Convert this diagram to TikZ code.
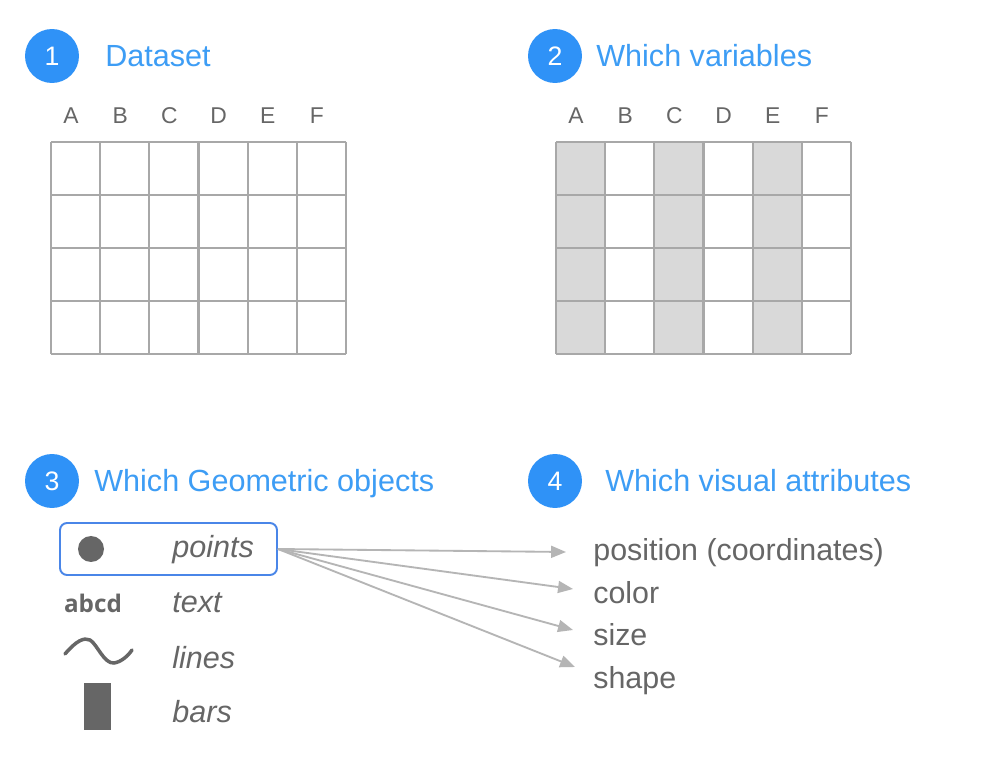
\documentclass[tikz,border=0pt]{standalone}
\usepackage{fontspec}
\setmainfont{Liberation Sans}
\newfontfamily\iconfont{Open Sans}
\usetikzlibrary{arrows.meta}
\definecolor{numblue}{HTML}{2F92F7}
\definecolor{titleblue}{HTML}{3D9DF5}
\definecolor{txtgray}{HTML}{666666}
\definecolor{gridgray}{HTML}{A8A8A8}
\definecolor{cellfill}{HTML}{D9D9D9}
\definecolor{selblue}{HTML}{4A86E8}
\definecolor{arrgray}{HTML}{B5B5B5}
\tikzset{
  num/.style={circle, fill=numblue, text=white, minimum size=1.08cm, inner sep=0pt, font=\fontsize{15.2}{18}\selectfont},
  title/.style={anchor=base west, inner sep=0pt, text=titleblue, font=\fontsize{17.4}{20}\selectfont},
  col/.style={text=txtgray, inner sep=0pt, font=\fontsize{13}{15}\selectfont},
  gridline/.style={draw=gridgray, line width=1.3pt},
  item/.style={anchor=base west, inner sep=0pt, text=txtgray, font=\fontsize{17.4}{20}\selectfont\itshape},
  attr/.style={anchor=base west, inner sep=0pt, text=txtgray, font=\fontsize{17.3}{20}\selectfont},
  selbox/.style={draw=selblue, line width=1.1pt, rounded corners=4pt, minimum width=4.34cm, minimum height=1.04cm, inner sep=0pt},
  icon/.style={fill=txtgray},
  arr/.style={-{Triangle[length=8.5pt, width=6.8pt]}, draw=arrgray, fill=arrgray, line width=1.05pt}}

\begin{document}
\begin{tikzpicture}[x=0.02cm, y=-0.02cm]
  \path[use as bounding box, fill=white] (0,0) rectangle (985,770);
  % step 1: dataset
  \node[num] (n1) at (52,56) {1};
  \node[title] (t1) at (105,67) {Dataset};
  \foreach \c [count=\i from 0] in {A,B,C,D,E,F}
    \node[col] (ca\c) at ({71+49.17*\i},116) {\c};
  \foreach \i in {0,...,6}
    \draw[gridline] ({51+49.17*\i},142) -- ({51+49.17*\i},354);
  \foreach \j in {0,...,4}
    \draw[gridline] (51,{142+53*\j}) -- (346,{142+53*\j});
  % step 2: chosen columns
  \node[num] (n2) at (555,56) {2};
  \node[title] (t2) at (596,67) {Which variables};
  \foreach \c [count=\i from 0] in {A,B,C,D,E,F}
    \node[col] (cb\c) at ({576+49.17*\i},116) {\c};
  \foreach \i in {0,2,4}
    \fill[cellfill] ({556+49.17*\i},142) rectangle ({556+49.17*(\i+1)},354);
  \foreach \i in {0,...,6}
    \draw[gridline] ({556+49.17*\i},142) -- ({556+49.17*\i},354);
  \foreach \j in {0,...,4}
    \draw[gridline] (556,{142+53*\j}) -- (851,{142+53*\j});
  % step 3: geometric objects
  \node[num] (n3) at (52,481) {3};
  \node[title] (t3) at (94,492) {Which Geometric objects};
  \node[selbox] (sel) at (168.5,549) {};
  \fill[icon] (91,549) circle (13);
  \node[item] (points) at (172,558) {points};
  \node[text=txtgray, anchor=base, inner sep=0pt, font=\iconfont\bfseries\fontsize{13.8}{16}\selectfont] (abcd) at (93,612) {abcd};
  \node[item] (text) at (172,613) {text};
  \draw[txtgray, line width=2pt, line cap=round]
    (65,654) .. controls (76,641) and (84,637) .. (90,640)
    .. controls (97,644) and (104,664) .. (114,663)
    .. controls (121,662) and (128,656) .. (132,650);
  \node[item] (lines) at (172,668) {lines};
  \fill[icon] (84,683) rectangle (111,730);
  \node[item] (bars) at (172,723) {bars};
  % step 4: visual attributes
  \node[num] (n4) at (555,481) {4};
  \node[title] (t4) at (605,492) {Which visual attributes};
  \node[attr] (pos) at (593,561) {position (coordinates)};
  \node[attr] (color) at (593,603) {color};
  \node[attr] (size) at (593,645.5) {size};
  \node[attr] (shape) at (593,688) {shape};
  \coordinate (posTip) at (566,552);
  \coordinate (colorTip) at (573,589);
  \coordinate (sizeTip) at (573,630);
  \coordinate (shapeTip) at (575,667);
  \draw[arr] (sel.east) -- (posTip);
  \draw[arr] (sel.east) -- (colorTip);
  \draw[arr] (sel.east) -- (sizeTip);
  \draw[arr] (sel.east) -- (shapeTip);
\end{tikzpicture}
\end{document}
